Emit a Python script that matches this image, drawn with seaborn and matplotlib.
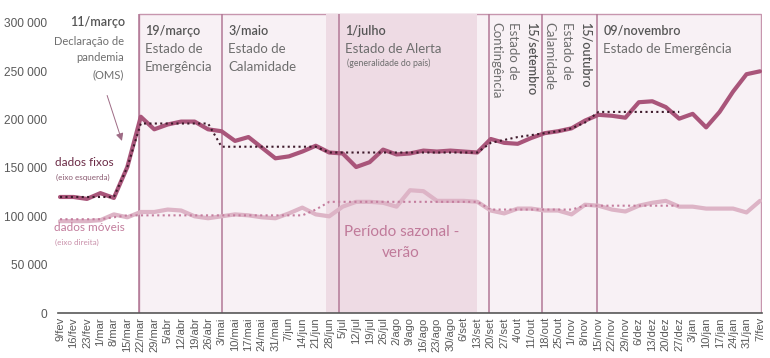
import numpy as np
import pandas as pd
import matplotlib
matplotlib.use("Agg")
import matplotlib.pyplot as plt
import seaborn as sns
from matplotlib.patches import Rectangle
from matplotlib.ticker import FuncFormatter

# -----------------------------
# DATA
# -----------------------------
semanas = ["9/fev", "16/fev", "23/fev", "1/mar", "8/mar", "15/mar", "22/mar", "29/mar",
           "5/abr", "12/abr", "19/abr", "26/abr", "3/mai", "10/mai", "17/mai", "24/mai",
           "31/mai", "7/jun", "14/jun", "21/jun", "28/jun", "5/jul", "12/jul", "19/jul",
           "26/jul", "2/ago", "9/ago", "16/ago", "23/ago", "30/ago", "6/set", "13/set",
           "20/set", "27/set", "4/out", "11/out", "18/out", "25/out", "1/nov", "8/nov",
           "15/nov", "22/nov", "29/nov", "6/dez", "13/dez", "20/dez", "27/dez", "3/jan",
           "10/jan", "17/jan", "24/jan", "31/jan", "7/fev"]

fixos = [120000, 120000, 118000, 124000, 119000, 151000, 203000, 190000, 195000, 198000,
         198000, 190000, 188000, 178000, 182000, 171000, 160000, 162000, 167000, 173000,
         166000, 165000, 151000, 156000, 169000, 164000, 165000, 168000, 167000, 168000,
         167000, 166000, 180000, 176000, 175000, 181000, 186000, 188000, 191000, 199000,
         205000, 204000, 202000, 218000, 219000, 213000, 201000, 206000, 192000, 208000,
         229000, 247000, 250000]

fixos_media = [120000, 120000, 120000, 120000, 120000, 151000, 196000, 196000, 196000, 196000,
               196000, 196000, 172000, 172000, 172000, 172000, 172000, 172000, 172000, 172000,
               166000, 166000, 166000, 166000, 166000, 166000, 166000, 166000, 166000, 166000,
               166000, 166000, 176000, 179000, 182000, 184000, 186000, 188000, 191000, 197000,
               208000, 208000, 208000, 208000, 208000, 208000, 208000, np.nan, np.nan, np.nan,
               np.nan, np.nan, np.nan]

moveis = [95000, 95000, 95000, 96000, 102000, 99000, 104500, 104500, 107000, 106000,
          100000, 98000, 100000, 102000, 101000, 99000, 98000, 103000, 109000, 102000,
          100000, 110000, 115000, 115000, 114000, 110000, 127000, 126000, 116000, 116000,
          116000, 115000, 106000, 103000, 108000, 108000, 106000, 106000, 102000, 112000,
          111000, 107000, 105000, 111000, 114000, 116000, 110000, 110000, 108000, 108000,
          108000, 104000, 116000]

moveis_media = [97000, 97000, 97000, 97000, 99000, 101000, 101000, 101000, 101000, 101000,
                101000, 101000, 101000, 101000, 101000, 101000, 101000, 101000, 101000, 107000,
                115000, 115000, 115000, 115000, 115000, 115000, 115000, 115000, 115000, 115000,
                115000, 115000, 107000, 107000, 107000, 107000, 107000, 107000, 107000, 111000,
                111000, 111000, 111000, 111000, 111000, 111000, 111000, np.nan, np.nan, np.nan,
                np.nan, np.nan, np.nan]

df = pd.DataFrame({"semana": np.arange(len(semanas)), "fixos": fixos,
                   "fixos_media": fixos_media, "moveis": moveis,
                   "moveis_media": moveis_media})

# region boundaries (in week index units)
limites = [5.87, 12.04, 20.73, 31.87, 35.81, 39.9]
inicio_caixa, fim_caixa = 5.87, 52.08
verao = (19.76, 30.98)
topo = 309000

# -----------------------------
# STYLE
# -----------------------------
sns.set_theme(style="white")
plt.rcParams["font.family"] = ["Liberation Sans", "DejaVu Sans"]
TXT = ["Lato", "DejaVu Sans"]

cinza = "#595959"
cinza_txt = "#6E6E6E"
cor_fixos = "#A9557A"
cor_moveis = "#DDB4C6"
cor_linha = "#B27896"

fig, ax = plt.subplots(figsize=(7.7, 3.58), dpi=100)
fig.subplots_adjust(left=58 / 770, right=762 / 770, bottom=1 - 313 / 358, top=1 - 13.3 / 358)

# background boxes
ax.add_patch(Rectangle((inicio_caixa, 0), fim_caixa - inicio_caixa, topo,
                       facecolor="#F8F1F5", edgecolor="#C796AE", lw=1.0, zorder=0))
ax.add_patch(Rectangle((verao[0], 0), verao[1] - verao[0], topo,
                       facecolor="#EEDBE4", edgecolor="none", zorder=0.5))
ax.vlines(limites, 0, topo, color=cor_linha, lw=1.1, zorder=1)

# -----------------------------
# LINES
# -----------------------------
sns.lineplot(data=df, x="semana", y="moveis", color=cor_moveis, lw=3.0, ax=ax, zorder=2)
sns.lineplot(data=df, x="semana", y="moveis_media", color="#C47D9E", lw=1.5,
             linestyle=(0, (1, 1.6)), ax=ax, zorder=3)
sns.lineplot(data=df, x="semana", y="fixos", color=cor_fixos, lw=3.0, ax=ax, zorder=4)
sns.lineplot(data=df, x="semana", y="fixos_media", color="#3E1A2B", lw=1.5,
             linestyle=(0, (1, 1.6)), ax=ax, zorder=5)

# -----------------------------
# AXES
# -----------------------------
ax.set_xlim(-0.15, 52.15)
ax.set_ylim(0, 310000)
ax.set_xticks(df["semana"])
ax.set_xticklabels(semanas, rotation=90, fontsize=8, color=cinza)
ax.set_yticks(np.arange(0, 300001, 50000))
ax.yaxis.set_major_formatter(FuncFormatter(lambda v, p: f"{int(v):,}".replace(",", " ")))
ax.tick_params(axis="y", labelsize=8.6, labelcolor=cinza, length=0, pad=8)
ax.tick_params(axis="x", length=0, pad=3)
ax.set_xlabel("")
ax.set_ylabel("")
for s in ["top", "right", "left"]:
    ax.spines[s].set_visible(False)
ax.spines["bottom"].set_color(cinza)
ax.spines["bottom"].set_linewidth(1.2)

# -----------------------------
# ANNOTATIONS
# -----------------------------
ax.text(4.83, 301000, "11/março", family=TXT, fontsize=9, color="#555555",
        fontweight="semibold", ha="right", va="center")
for y, t in [(281000, "Declaração de"), (264000, "pandemia"), (246000, "(OMS)")]:
    ax.text(4.75, y, t, family=TXT, fontsize=8, color=cinza_txt, ha="right", va="center")
ax.annotate("", xy=(4.6, 178000), xytext=(3.5, 225000),
            arrowprops=dict(arrowstyle="-|>", color="#9E6B85", lw=0.7,
                            mutation_scale=11, shrinkA=0, shrinkB=0), zorder=6)

cabecalhos = [(6.3, "19/março", ["Estado de", "Emergência"]),
              (12.5, "3/maio", ["Estado de", "Calamidade"]),
              (21.2, "1/julho", ["Estado de Alerta"]),
              (40.35, "09/novembro", ["Estado de Emergência"])]
for x0, data_txt, linhas in cabecalhos:
    ax.text(x0, 292000, data_txt, family=TXT, fontsize=9, color="#555555",
            fontweight="semibold", va="center")
    for k, t in enumerate(linhas):
        ax.text(x0, 273000 - k * 18500, t, family=TXT, fontsize=9.5, color=cinza_txt,
                va="center")
ax.text(21.3, 258600, "(generalidade do país)", family=TXT, fontsize=6.3,
        color=cinza_txt, va="center")

verticais = [(32.39, "Contingência", "normal"), (33.66, "Estado de", "normal"),
             (35.0, "15/setembro", "semibold"), (36.37, "Calamidade", "normal"),
             (37.67, "Estado de", "normal"), (39.04, "15/outubro", "semibold")]
for x0, t, w in verticais:
    ax.text(x0, 301000, t, family=TXT, fontsize=9 if w == "semibold" else 9.5,
            color="#555555" if w == "semibold" else cinza_txt, fontweight=w,
            rotation=-90, ha="center", va="top")

ax.text(-0.37, 156000, "dados fixos", family=TXT, fontsize=8.5, color="#6A2A45", va="center")
ax.text(-0.3, 140700, "(eixo esquerda)", family=TXT, fontsize=5.8, color="#8A5A70", va="center")
ax.text(-0.45, 88000, "dados móveis", family=TXT, fontsize=8.5, color="#C27C9C", va="center")
ax.text(-0.4, 73400, "(eixo direita)", family=TXT, fontsize=5.8, color="#C990AA", va="center")

ax.text(25.4, 83800, "Período sazonal -", family=TXT, fontsize=11, color="#C07A9A",
        ha="center", va="center")
ax.text(25.3, 62000, "verão", family=TXT, fontsize=11, color="#C07A9A",
        ha="center", va="center")

plt.savefig("out.png", dpi=100)
